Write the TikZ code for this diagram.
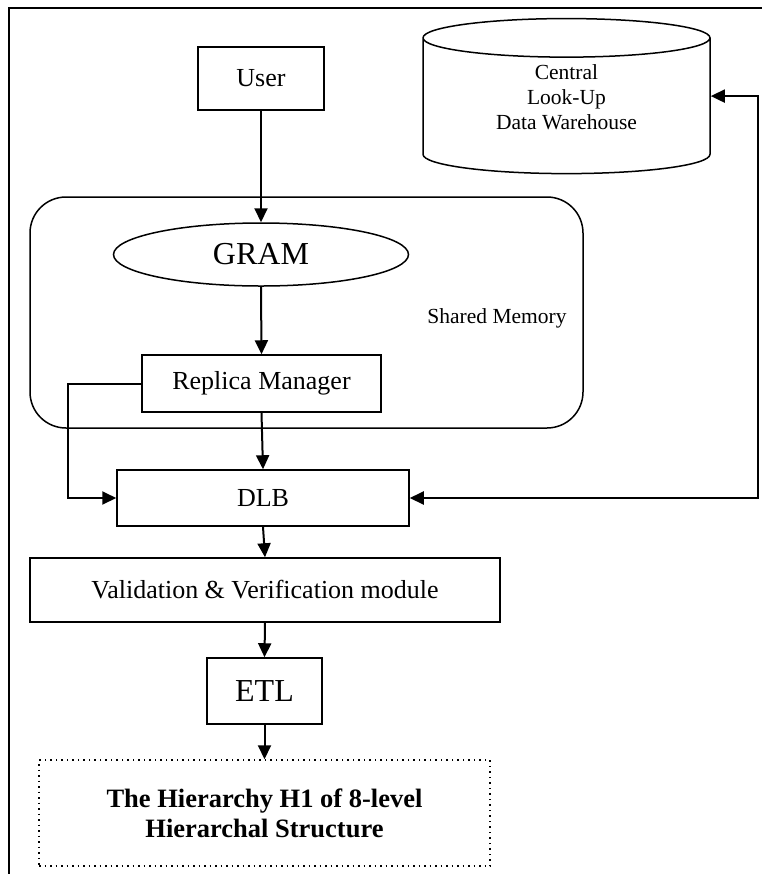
\documentclass[tikz,border=0pt]{standalone}
\usepackage{fontspec}
\setmainfont{Liberation Serif}
\usetikzlibrary{shapes.geometric,arrows.meta}

\begin{document}
\begin{tikzpicture}[x=0.5pt,y=-0.5pt,>={Triangle[length=7pt,width=6.5pt]},
    box/.style={draw,rectangle,line width=0.75pt,inner sep=0pt,font=\fontsize{13}{15}\selectfont},
    flow/.style={line width=1pt,->}]
    \useasboundingbox (0,0) rectangle (762,874);
    \draw[line width=0.8pt] (9,874) -- (9,8) -- (762,8);

    \node[draw,line width=0.75pt,rounded corners=18pt,minimum width=276.5pt,minimum height=115.5pt] (shm) at (306.5,312.5) {};
    \node[font=\fontsize{10.75}{12}\selectfont] (shmlabel) at (497,318) {Shared Memory};

    \node[box,minimum width=63pt,minimum height=31.5pt] (user) at (261,78.5) {User};
    \node[draw,cylinder,shape border rotate=90,aspect=0.25,line width=0.75pt,minimum width=143.5pt,minimum height=76pt,
          text depth=12pt,align=center,font=\fontsize{10.75}{12.5}\selectfont] (dw) at (566.5,109) {Central\\Look-Up\\Data Warehouse};
    \node[draw,ellipse,line width=0.75pt,inner sep=0pt,minimum width=147.5pt,minimum height=31.5pt,font=\fontsize{16}{18}\selectfont] (gram) at (261,254.5) {GRAM};
    \node[box,minimum width=119.5pt,minimum height=28.5pt] (replica) at (261.5,383.5) {Replica Manager};
    \node[box,minimum width=146pt,minimum height=28pt] (dlb) at (263,498) {DLB};
    \node[box,minimum width=235pt,minimum height=32pt] (valid) at (265,590) {Validation \& Verification module};
    \node[box,minimum width=57.5pt,minimum height=33pt,font=\fontsize{16}{18}\selectfont] (etl) at (264.5,691) {ETL};
    \node[box,dotted,minimum width=225.5pt,minimum height=53pt,align=center,font=\bfseries\fontsize{13.25}{15}\selectfont] (h1) at (264.5,813) {The Hierarchy H1 of 8-level\\Hierarchal Structure};

    \coordinate (rt) at (758,498);
    \coordinate (dwin) at (dw.shape center -| dw.east);

    \draw[flow] (user.south) -- (gram.north);
    \draw[flow] (gram.south) -- (replica.north);
    \draw[flow] (replica.south) -- (dlb.north);
    \draw[flow] (replica.west) -- ++(-73,0) |- (dlb.west);
    \draw[flow,<->] (dlb.east) -- (rt) |- (dwin);
    \draw[flow] (dlb.south) -- (valid.north);
    \draw[flow] (valid.south) -- (etl.north);
    \draw[flow] (etl.south) -- (h1.north);
\end{tikzpicture}
\end{document}
